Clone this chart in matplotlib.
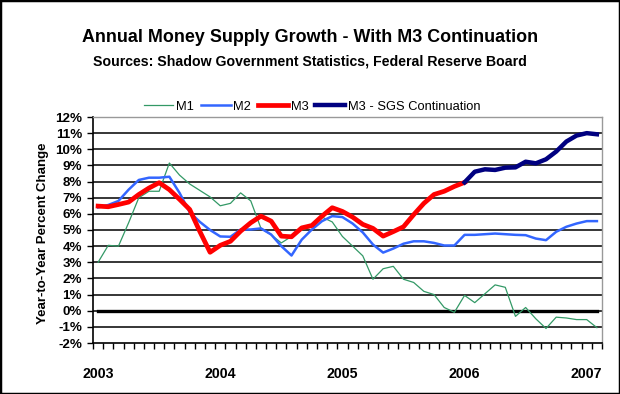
import numpy as np
import pandas as pd
import matplotlib
matplotlib.use("Agg")
import matplotlib.pyplot as plt
from matplotlib.patches import Rectangle

plt.rcParams['font.family'] = ['Liberation Sans', 'DejaVu Sans']

# monthly categories, Jan 2003 - Feb 2007
months = pd.date_range("2003-01-01", periods=50, freq="MS")
year_labels = ["2003", "2004", "2005", "2006", "2007"]

# year-to-year percent change
m1 = [3.0, 4.05, 4.0, 5.45, 7.0, 7.4, 7.4, 9.15, 8.4, 7.85,
      7.45, 7.05, 6.5, 6.65, 7.3, 6.8, 5.1, 4.7, 4.2, 4.6,
      5.0, 5.2, 5.8, 5.5, 4.6, 4.0, 3.4, 1.95, 2.6, 2.75,
      1.95, 1.75, 1.2, 1.0, 0.2, -0.1, 0.95, 0.5, 1.05, 1.6,
      1.45, -0.35, 0.2, -0.5, -1.1, -0.4, -0.45, -0.55, -0.55, -1.05]
m2 = [6.4, 6.55, 6.8, 7.5, 8.1, 8.24, 8.24, 8.3, 7.3, 6.1,
      5.5, 5.0, 4.6, 4.58, 5.03, 5.03, 5.1, 4.72, 4.0, 3.42,
      4.4, 5.03, 5.55, 5.86, 5.8, 5.4, 4.85, 4.1, 3.6, 3.85,
      4.15, 4.3, 4.3, 4.2, 4.04, 4.04, 4.7, 4.7, 4.74, 4.78,
      4.74, 4.7, 4.68, 4.47, 4.37, 4.89, 5.2, 5.4, 5.55, 5.55]
m3 = [6.48, 6.44, 6.58, 6.73, 7.2, 7.6, 7.93, 7.5, 6.9, 6.27,
      4.9, 3.62, 4.05, 4.3, 4.93, 5.45, 5.86, 5.55, 4.62, 4.58,
      5.13, 5.28, 5.86, 6.38, 6.15, 5.8, 5.35, 5.1, 4.62, 4.9,
      5.2, 5.95, 6.65, 7.2, 7.4, 7.7, 7.95]
m3_sgs = [7.95, 8.61, 8.76, 8.72, 8.86, 8.88, 9.23, 9.13, 9.38, 9.86,
          10.48, 10.85, 11.0, 10.93]

x = np.arange(len(months))
x_sgs = x[len(m3) - 1:]

fig = plt.figure(figsize=(6.2, 3.94), dpi=100)
ax = fig.add_axes([93 / 620, 1 - 343 / 394, 509 / 620, 226 / 394])

for v in range(-1, 12):
    ax.axhline(v, color="black", lw=1.1, zorder=1)
ax.plot(x, np.zeros(len(x)), color="black", lw=2.4, zorder=2)

l1, = ax.plot(x, m1, color="#339966", lw=0.9, zorder=3, label="M1")
l2, = ax.plot(x, m2, color="#3366FF", lw=1.8, zorder=4, label="M2")
l3, = ax.plot(x[:len(m3)], m3, color="#FF0000", lw=3.4, zorder=5, label="M3")
l4, = ax.plot(x_sgs, m3_sgs, color="#000080", lw=3.2, zorder=6,
              label="M3 - SGS Continuation")

ax.set_xlim(-0.5, len(x) - 0.5)
ax.set_ylim(-2, 12)
ax.set_yticks(range(-2, 13))
ax.set_yticklabels([f"{v}%" for v in range(-2, 13)], fontweight="bold", fontsize=9.6)
year_pos = [i for i, d in enumerate(months) if d.month == 1]
ax.set_xticks(year_pos)
ax.set_xticklabels(year_labels, fontweight="bold", fontsize=10.2)
ax.set_xticks(np.arange(-0.5, len(x)), minor=True)
ax.tick_params(axis="x", which="major", length=0, pad=17)
ax.tick_params(axis="x", which="minor", length=4, width=1, direction="out")
ax.tick_params(axis="y", length=4, width=1, direction="out", pad=4)

for s in ["left", "bottom"]:
    ax.spines[s].set_color("black")
    ax.spines[s].set_linewidth(1.2)
for s in ["top", "right"]:
    ax.spines[s].set_color("#999999")
    ax.spines[s].set_linewidth(1.0)

fig.text(43 / 620, 1 - 233 / 394, "Year-to-Year Percent Change", rotation=90,
         ha="center", va="center", fontsize=9.5, fontweight="bold")

fig.text(0.5, 1 - 38 / 394, "Annual Money Supply Growth - With M3 Continuation",
         ha="center", va="center", fontsize=12.9, fontweight="bold")
fig.text(0.5, 1 - 62 / 394, "Sources: Shadow Government Statistics, Federal Reserve Board",
         ha="center", va="center", fontsize=10.2, fontweight="bold")

fig.legend(handles=[l1, l2, l3, l4], loc="center", bbox_to_anchor=(312 / 620, 1 - 107 / 394),
           ncol=4, frameon=False, fontsize=9.3, handlelength=2.3, handletextpad=0.2,
           columnspacing=0.55)

fig.patches.append(Rectangle((0, 0), 1, 1, transform=fig.transFigure, fill=False,
                             edgecolor="black", lw=2.5))

fig.savefig("out.png", dpi=100)
